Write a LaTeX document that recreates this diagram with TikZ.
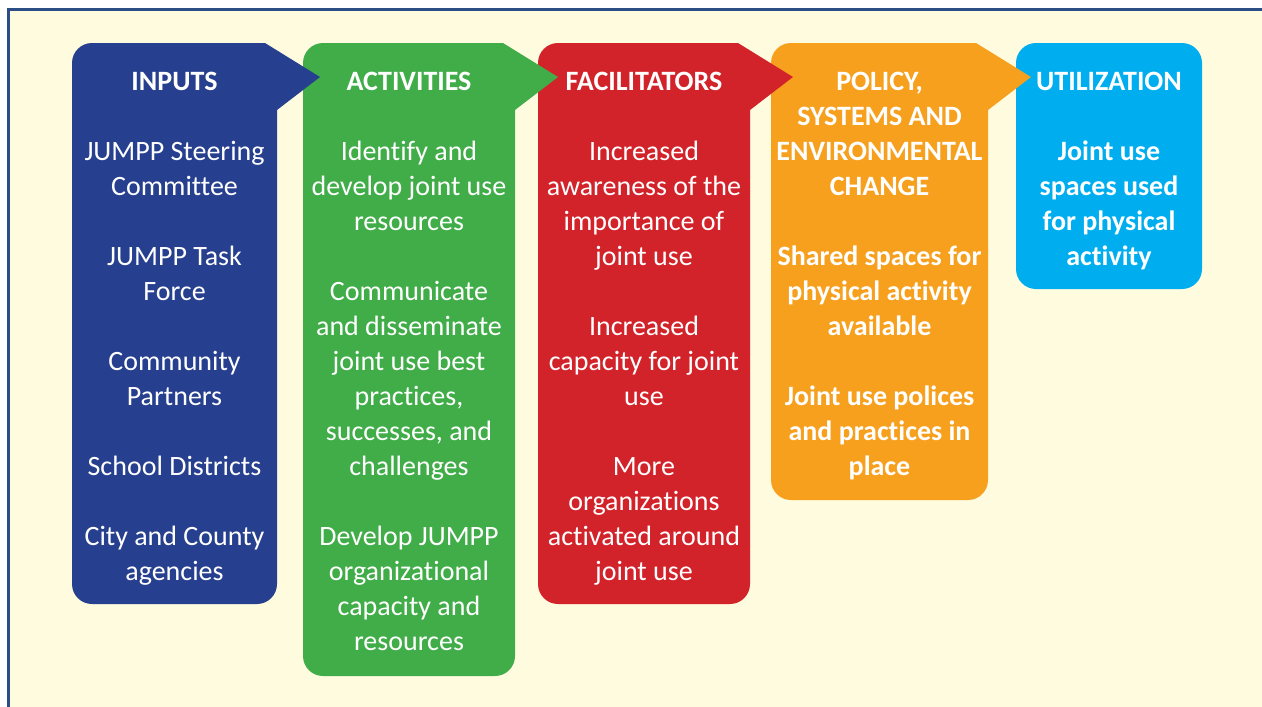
\documentclass[tikz,border=0pt]{standalone}
\usepackage{fontspec}
\setmainfont{Carlito}[Ligatures=NoCommon]
\definecolor{frameblue}{RGB}{43,78,134}
\definecolor{paper}{RGB}{255,251,222}
\definecolor{inblue}{RGB}{38,63,142}
\definecolor{actgreen}{RGB}{65,173,73}
\definecolor{facred}{RGB}{210,35,42}
\definecolor{polorange}{RGB}{247,160,30}
\definecolor{utilcyan}{RGB}{0,174,239}
\begin{document}
\begin{tikzpicture}[x=1pt,y=-1pt,
        colbox/.style={rounded corners=20pt},
        coltext/.style={anchor=north, inner sep=0pt, align=center, text=white, font=\fontsize{28}{35}\selectfont},
        boldtext/.style={coltext, font=\fontsize{28}{35}\selectfont\bfseries}]
        \useasboundingbox (0,0) rectangle (1262,707);
        \fill[paper] (8,9) rectangle (1272,717);
        \draw[frameblue, line width=3pt] (8,720) -- (8,9) -- (1275,9);

        % columns, right to left so each tip lies over the next box
        \fill[utilcyan, colbox] (1016,43) rectangle (1202,289);
        \fill[polorange, colbox] (771,43) rectangle (988,500);
        \fill[polorange] (968,43) -- (976,43) -- (1031,77) -- (988,110) -- (968,110) -- cycle;
        \fill[facred, colbox] (538,43) rectangle (750,604);
        \fill[facred] (730,43) -- (738,43) -- (793,77) -- (750,110) -- (730,110) -- cycle;
        \fill[actgreen, colbox] (303,43) rectangle (515,676);
        \fill[actgreen] (495,43) -- (503,43) -- (558,77) -- (515,110) -- (495,110) -- cycle;
        \fill[inblue, colbox] (72,43) rectangle (277,604);
        \fill[inblue] (257,43) -- (265,43) -- (320,77) -- (277,110) -- (257,110) -- cycle;

        \node[coltext] (inputs) at (174.5,72) {\textbf{INPUTS}\\[35pt]JUMPP Steering\\Committee\\[35pt]JUMPP Task\\Force\\[35pt]Community\\Partners\\[35pt]School Districts\\[35pt]City and County\\agencies};
        \node[coltext] (activities) at (409,72) {\textbf{ACTIVITIES}\\[35pt]Identify and\\develop joint use\\resources\\[35pt]Communicate\\and disseminate\\joint use best\\practices,\\successes, and\\challenges\\[35pt]Develop JUMPP\\organizational\\capacity and\\resources};
        \node[coltext] (facilitators) at (644,72) {\textbf{FACILITATORS}\\[35pt]Increased\\awareness of the\\importance of\\joint use\\[35pt]Increased\\capacity for joint\\use\\[35pt]More\\organizations\\activated around\\joint use};
        \node[boldtext] (policy) at (879.5,72) {POLICY,\\SYSTEMS AND\\ENVIRONMENTAL\\CHANGE\\[35pt]Shared spaces for\\physical activity\\available\\[35pt]Joint use polices\\and practices in\\place};
        \node[boldtext] (utilization) at (1109,72) {UTILIZATION\\[35pt]Joint use\\spaces used\\for physical\\activity};
    \end{tikzpicture}
\end{document}
